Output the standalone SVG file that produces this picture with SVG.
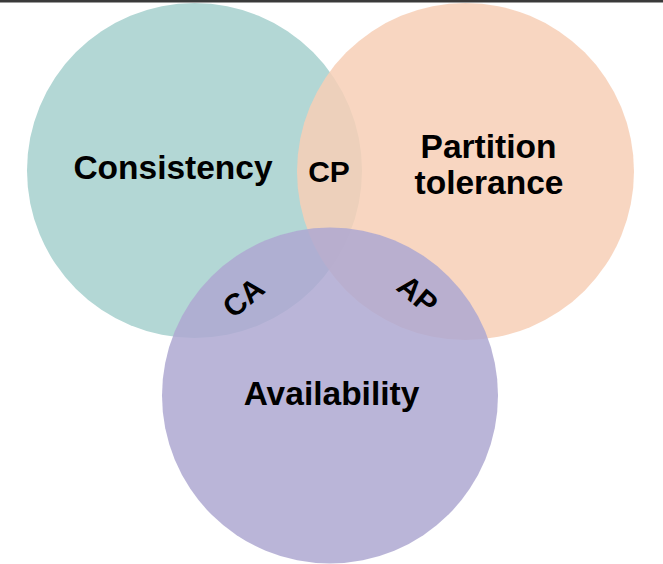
<svg xmlns="http://www.w3.org/2000/svg" width="663" height="564" viewBox="0 0 663 564">
<style>
.lbl{font-family:"Liberation Sans",Arial,sans-serif;font-weight:bold;fill:#000;text-anchor:middle}
.big{font-size:33.5px}
.sm{font-size:30px}
</style>
<rect x="0" y="0" width="663" height="564" fill="#fff"/>
<rect x="0" y="0" width="663" height="2.5" fill="#3a3a3a"/>
<g id="consistency">
<circle cx="194.5" cy="170.5" r="167.5" fill="#b3d7d5"/>
</g>
<g id="partition">
<circle cx="465.5" cy="171.5" r="168.5" fill="#f7cfb6" fill-opacity="0.85"/>
</g>
<g id="availability">
<circle cx="330" cy="395.5" r="168" fill="#aea8d1" fill-opacity="0.85"/>
</g>
<g id="connectors"></g>
<g id="labels">
<text class="lbl big" x="173" y="179">Consistency</text>
<text class="lbl big" x="488.5" y="158">Partition</text>
<text class="lbl big" x="489" y="194">tolerance</text>
<text class="lbl big" x="331.5" y="405">Availability</text>
<text class="lbl sm" x="329" y="182">CP</text>
<text class="lbl sm" transform="translate(243,297) rotate(-40)" x="0" y="11">CA</text>
<text class="lbl sm" transform="translate(418,294) rotate(40)" x="0" y="11">AP</text>
</g>
</svg>
